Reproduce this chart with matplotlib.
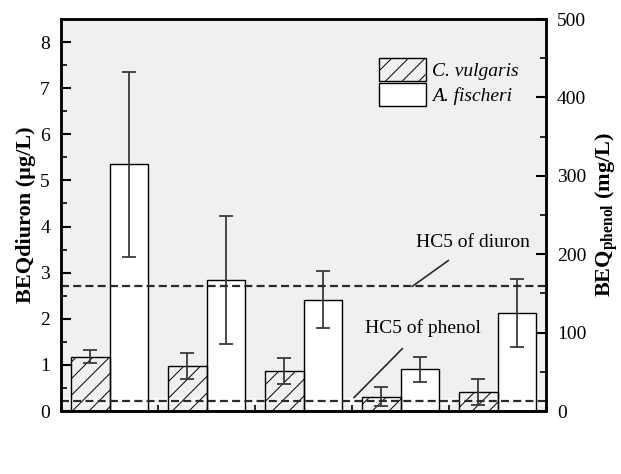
import numpy as np
import matplotlib
matplotlib.use('Agg')
import matplotlib.pyplot as plt
from matplotlib.patches import Patch
from matplotlib.transforms import blended_transform_factory

plt.rcParams['font.family'] = 'Liberation Serif'
plt.rcParams['mathtext.fontset'] = 'custom'
plt.rcParams['mathtext.rm'] = 'Liberation Serif'
plt.rcParams['mathtext.bf'] = 'Liberation Serif:bold'
plt.rcParams['hatch.linewidth'] = 0.7

# data
samples = ['IN', 'AGE', 'PSE', 'SSE', 'UV']
c_vulgaris = [1.18, 0.97, 0.87, 0.31, 0.41]       # ug/L, left axis
c_vulgaris_err = [0.15, 0.28, 0.29, 0.21, 0.29]
a_fischeri = [315, 167, 142, 53, 125]              # mg/L, right axis
a_fischeri_err = [118, 82, 36, 16, 43]
hc5_diuron = 2.7
hc5_phenol = 13

fig = plt.figure(figsize=(6.21, 4.74), dpi=100)
ax2 = fig.add_axes([61/621, 1-411/474, 485/621, 392/474])
ax = ax2.twinx()
ax.yaxis.tick_left()
ax.yaxis.set_label_position('left')
ax2.yaxis.tick_right()
ax2.yaxis.set_label_position('right')
ax2.set_facecolor('#eff0f2')
ax.patch.set_visible(False)

x = np.arange(1, len(samples) + 1)
w = 0.4

# light strip behind the phenol line
ax2.axhline(hc5_phenol, color='#f9f9f9', lw=5, zorder=0.5)

# A. fischeri bars (right axis)
ax2.bar(x + w/2, a_fischeri, w, color='white', edgecolor='black', linewidth=1)
ax2.errorbar(x + w/2, a_fischeri, yerr=a_fischeri_err, fmt='none', ecolor='#3a3a3a',
             elinewidth=1.3, capsize=5, capthick=1.3)

# C. vulgaris bars (left axis)
ax.bar(x - w/2, c_vulgaris, w, color='none', edgecolor='black', linewidth=1, hatch='//')
ax.errorbar(x - w/2, c_vulgaris, yerr=c_vulgaris_err, fmt='none', ecolor='#3a3a3a',
            elinewidth=1.3, capsize=5, capthick=1.3)

ax.set_xlim(0.5, 5.5)
ax.set_ylim(0, 8.5)
ax2.set_ylim(0, 500)

# HC5 lines
ax.axhline(hc5_diuron, color='#2a2a2a', lw=1.6, dashes=(3.6, 1.9))
tr = blended_transform_factory(ax.transAxes, ax2.transData)
ax.plot([0, 1], [hc5_phenol, hc5_phenol], transform=tr, color='#2a2a2a', lw=1.6, dashes=(3.6, 1.9))

ax.annotate('HC5 of diuron', xy=(4.12, hc5_diuron), xytext=(4.75, 3.65),
            fontsize=14, ha='center', va='center',
            arrowprops=dict(arrowstyle='-', color='#2a2a2a', lw=1.2, shrinkA=8, shrinkB=0))
ax2.annotate('HC5 of phenol', xy=(3.52, hc5_phenol + 4), xytext=(4.23, 106),
             fontsize=14, ha='center', va='center',
             arrowprops=dict(arrowstyle='-', color='#2a2a2a', lw=1.2, shrinkA=9, shrinkB=0))

# ticks
ax.set_xticks(x)
ax.set_xticklabels(samples)
ax.set_xticks(x[:-1] + 0.5, minor=True)
ax.set_yticks(np.arange(0, 9, 1))
ax.set_yticks(np.arange(0.5, 8.5, 1), minor=True)
ax2.set_yticks(np.arange(0, 600, 100))
ax2.set_yticks(np.arange(50, 500, 100), minor=True)
ax2.set_xticks([])
for a in (ax, ax2):
    a.tick_params(which='major', direction='in', length=7, width=1.5, labelsize=14, pad=8)
    a.tick_params(which='minor', direction='in', length=4, width=1.2)
    for s in a.spines.values():
        s.set_linewidth(1.8)
ax.tick_params(axis='x', which='major', length=0, pad=8)

ax.set_xlabel('Sample name', fontsize=16, fontweight='bold', labelpad=10)
ax.set_ylabel('BEQdiuron (\u00b5g/L)', fontsize=16, fontweight='bold',
              rotation=90, va='center')
ax.yaxis.set_label_coords(-0.072, 0.5)
ax2.set_ylabel(r'BEQ$_{\mathbf{phenol}}$ (mg/L)', fontsize=16, fontweight='bold',
               rotation=90, va='center')
ax2.yaxis.set_label_coords(1.126, 0.5)

# legend
handles = [Patch(facecolor='none', edgecolor='black', hatch='//', label='C. vulgaris'),
           Patch(facecolor='white', edgecolor='black', label='A. fischeri')]
ax.legend(handles=handles, loc='upper left', bbox_to_anchor=(0.62, 0.945),
          frameon=False, prop={'style': 'italic', 'size': 14},
          handlelength=2.4, handleheight=1.4, handletextpad=0.3, labelspacing=0.15)

fig.savefig('out.png', dpi=100)
